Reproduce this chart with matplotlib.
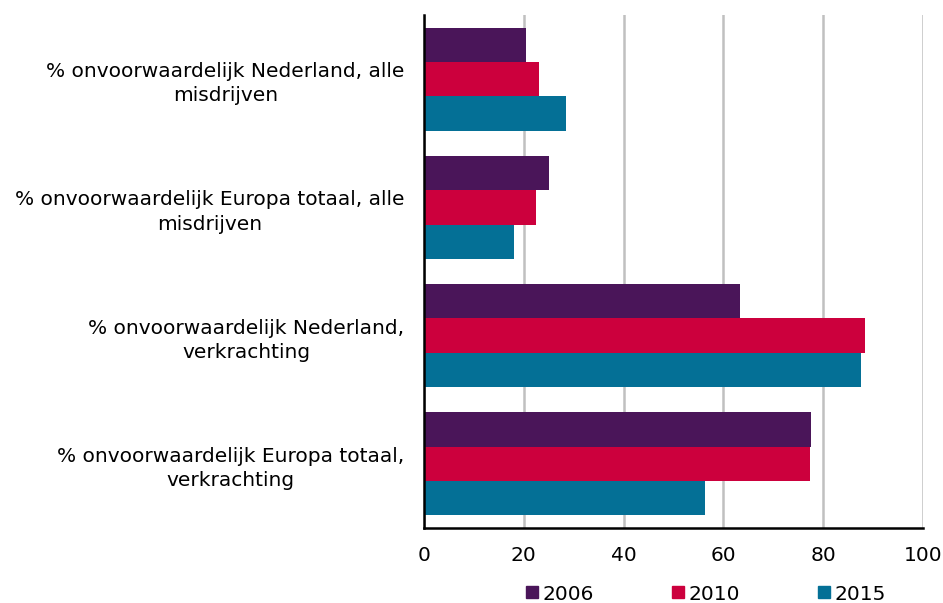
import numpy as np
import matplotlib
matplotlib.use("Agg")
import matplotlib.pyplot as plt
from matplotlib.lines import Line2D

# categorieen (van boven naar beneden)
categories = [
    "% onvoorwaardelijk Nederland, alle\nmisdrijven",
    "% onvoorwaardelijk Europa totaal, alle\nmisdrijven",
    "% onvoorwaardelijk Nederland,\nverkrachting",
    "% onvoorwaardelijk Europa totaal,\nverkrachting",
]
years = ["2006", "2010", "2015"]
vals_2006 = [20.5, 25.1, 63.3, 77.6]
vals_2010 = [23.0, 22.4, 88.4, 77.3]
vals_2015 = [28.5, 18.0, 87.6, 56.3]
colors = ["#4A1559", "#CC003D", "#047096"]

plt.rcParams["font.family"] = ["DejaVu Sans"]
fs = 14.5

fig = plt.figure(figsize=(9.43, 6.03), dpi=100)
ax = fig.add_axes([424 / 943, 1 - 528 / 603, 499 / 943, 513 / 603])

y = np.arange(len(categories))
h = 0.268
for i, (vals, c) in enumerate(zip([vals_2006, vals_2010, vals_2015], colors)):
    ax.barh(y + (i - 1) * h, vals, height=h, color=c, zorder=3)

ax.set_ylim(len(categories) - 0.5, -0.5)
ax.set_xlim(0, 100)
ax.set_xticks([0, 20, 40, 60, 80, 100])
ax.set_yticks(y)
ax.set_yticklabels(categories, fontsize=fs)
for t in ax.get_yticklabels():
    t.set_multialignment("center")
    t.set_linespacing(1.35)
ax.tick_params(axis="x", labelsize=fs, length=0, pad=13)
ax.tick_params(axis="y", length=0, pad=14)

ax.grid(axis="x", color="#C0C0C0", linewidth=1.8, zorder=0)
ax.spines["top"].set_visible(False)
ax.spines["right"].set_visible(False)
ax.spines["left"].set_linewidth(1.8)
ax.spines["bottom"].set_linewidth(1.8)
ax.spines["left"].set_zorder(4)

handles = [Line2D([], [], marker="s", linestyle="", color=c, markersize=9) for c in colors]
fig.legend(handles, years, loc="center", bbox_to_anchor=(704 / 943, 9 / 603),
           ncol=3, frameon=False, fontsize=fs, columnspacing=3.65,
           handletextpad=0.05, handlelength=1.0, borderpad=0)

fig.savefig("out.png", dpi=100)
